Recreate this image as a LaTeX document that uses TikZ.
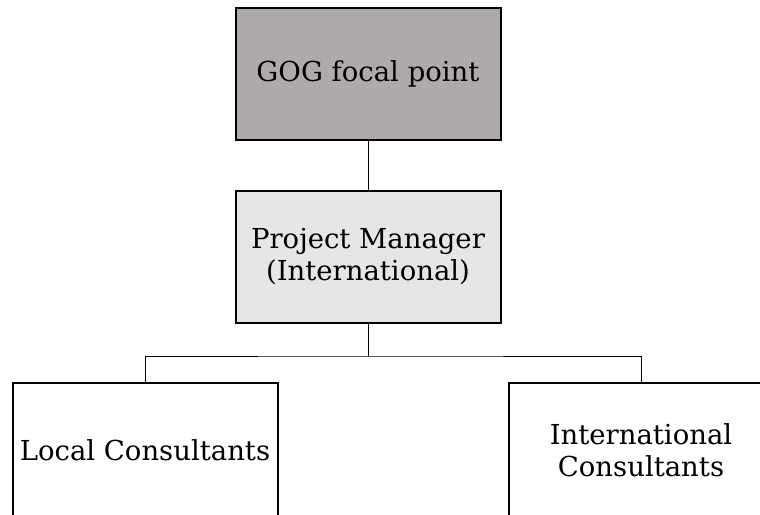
\documentclass[tikz,border=0pt]{standalone}
\usepackage{fontspec}
\setmainfont{DejaVu Serif}
\usepackage{tikz}
\usetikzlibrary{positioning}
\definecolor{focalgray}{RGB}{174,170,170}
\definecolor{pmgray}{RGB}{231,230,230}

\begin{document}
\begin{tikzpicture}[x=1pt,y=-1pt,
role/.style={draw,line width=2pt,minimum width=265pt,minimum height=132pt,inner sep=0pt,align=center,font=\fontsize{27.5}{32}\selectfont},
team/.style={role,minimum height=134pt},
link/.style={line width=1pt}]
\useasboundingbox (0,0) rectangle (760,514);
\clip (0,0) rectangle (760,514);
\node (gog) at (368,74) [role,fill=focalgray] {GOG focal point};
\node (pm) at (368,257) [role,fill=pmgray] {Project Manager\\(International)};
\node (lc) at (145,450) [team] {Local Consultants};
\node (ic) at (641,450) [team] {International\\Consultants};
\coordinate (split) at (368,356);
\draw[link] (gog) -- (pm);
\draw[link] (pm) -- (split);
\draw[link] (lc.north) |- (split) -| (ic.north);
\end{tikzpicture}
\end{document}
